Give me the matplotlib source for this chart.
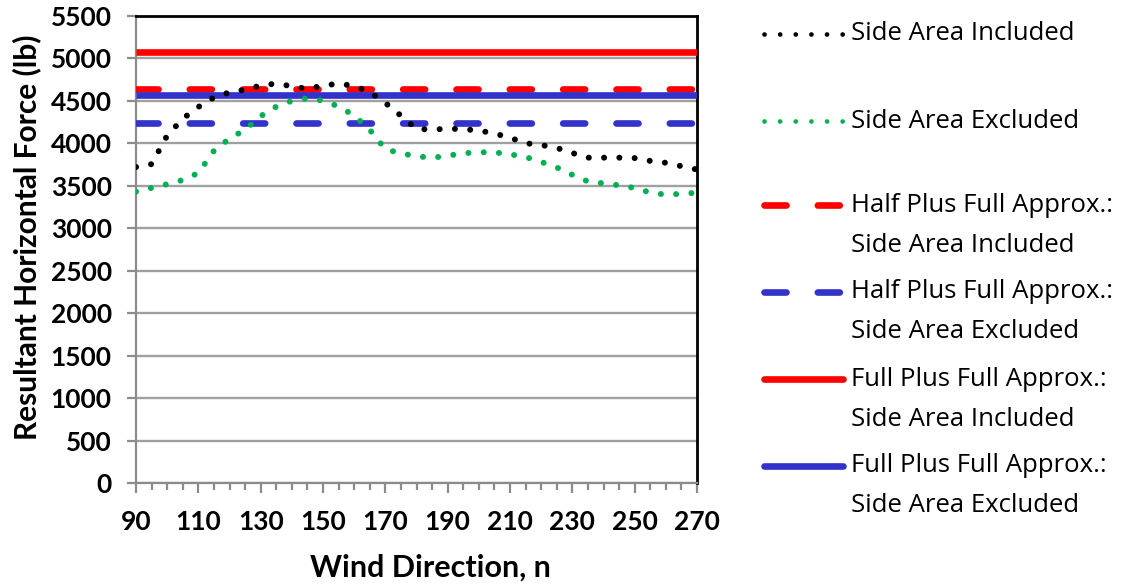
import matplotlib
matplotlib.use("Agg")
import matplotlib.pyplot as plt
from matplotlib.lines import Line2D
from matplotlib.ticker import MultipleLocator

# ---------------- data ----------------
wind_direction = [90, 95, 100, 105, 110, 115, 120, 125, 130, 135, 140, 145, 150, 155,
                  160, 165, 170, 175, 180, 185, 190, 195, 200, 205, 210, 215, 220, 225,
                  230, 235, 240, 245, 250, 255, 260, 265, 270]
side_included = [3720, 3754, 4090, 4288, 4426, 4538, 4598, 4630, 4679, 4702, 4670, 4640,
                 4678, 4701, 4674, 4603, 4474, 4324, 4168, 4160, 4171, 4166, 4149, 4115,
                 4065, 4000, 3979, 3945, 3885, 3830, 3830, 3830, 3825, 3792, 3770, 3730, 3690]
side_excluded = [3430, 3474, 3518, 3567, 3650, 3911, 4055, 4158, 4319, 4430, 4498, 4529,
                 4501, 4432, 4325, 4158, 3930, 3880, 3848, 3828, 3854, 3881, 3894, 3892,
                 3870, 3838, 3780, 3715, 3628, 3550, 3528, 3505, 3474, 3420, 3395, 3405, 3418]
half_full_included = 4634
half_full_excluded = 4238
full_full_included = 5078
full_full_excluded = 4567

y_ticks = [0, 500, 1000, 1500, 2000, 2500, 3000, 3500, 4000, 4500, 5000, 5500]
x_ticks = [90, 110, 130, 150, 170, 190, 210, 230, 250, 270]

legend_labels = ["Side Area Included",
                 "Side Area Excluded",
                 "Half Plus Full Approx.:\nSide Area Included",
                 "Half Plus Full Approx.:\nSide Area Excluded",
                 "Full Plus Full Approx.:\nSide Area Included",
                 "Full Plus Full Approx.:\nSide Area Excluded"]

# ---------------- style ----------------
BLACK = "#000000"
GREEN = "#00B050"
RED = "#FF0000"
BLUE = "#3333CC"
GRID = "#A0A0A0"
AXGRAY = "#8C8C8C"

W, H = 1122, 586
fig = plt.figure(figsize=(W / 100, H / 100), dpi=100)
L, R, T, B = 136, 697, 15.7, 483.3
ax = fig.add_axes([L / W, 1 - B / H, (R - L) / W, (B - T) / H])

ax.set_xlim(90, 270)
ax.set_ylim(0, 5500)
ax.set_yticks(y_ticks)
ax.set_xticks(x_ticks)
ax.xaxis.set_minor_locator(MultipleLocator(5))

ax.grid(axis="y", color=GRID, linewidth=1.7, zorder=0)
ax.set_axisbelow(True)

for s in ["left", "bottom"]:
    ax.spines[s].set_color(AXGRAY)
    ax.spines[s].set_linewidth(1.6)
for s in ["top", "right"]:
    ax.spines[s].set_color("black")
    ax.spines[s].set_linewidth(2.0)

ax.tick_params(axis="y", which="major", direction="out", length=6.5, width=1.6,
               color=AXGRAY, pad=11)
ax.tick_params(axis="x", which="major", direction="out", length=7.5, width=1.6,
               color=AXGRAY, pad=12)
ax.tick_params(axis="x", which="minor", direction="out", length=5, width=1.6, color=AXGRAY)
for lab in ax.get_xticklabels() + ax.get_yticklabels():
    lab.set_fontfamily("Lato")
    lab.set_fontweight("bold")
    lab.set_fontsize(19)

# horizontal approximations
hw = 4.8
dash = (0, (3.3, 4.7))
ax.axhline(full_full_included, color=RED, lw=hw, zorder=3, solid_capstyle="butt")
ax.axhline(half_full_included, color=RED, lw=hw, ls=dash, dash_capstyle="round", zorder=3)
ax.axhline(half_full_excluded, color=BLUE, lw=hw, ls=dash, dash_capstyle="round", zorder=3)
ax.axhline(full_full_excluded, color=BLUE, lw=hw, zorder=3.5, solid_capstyle="butt")

# dotted curves
dw = 4.3
dots = (0, (0.01, 2.55))
ax.plot(wind_direction, side_included, color=BLACK, lw=dw, ls=dots,
        dash_capstyle="round", zorder=4)
ax.plot(wind_direction, side_excluded, color=GREEN, lw=dw, ls=dots,
        dash_capstyle="round", zorder=4)

ax.set_xlabel("Wind Direction, n", family="Lato", weight="bold", fontsize=22)
ax.xaxis.set_label_coords((430 - L) / (R - L), (B - 568) / (B - T))
ax.xaxis.label.set_va("center")
ax.set_ylabel("Resultant Horizontal Force (lb)", family="Lato", weight="bold", fontsize=21.5)
ax.yaxis.set_label_coords((27 - L) / (R - L), (B - 237) / (B - T))
ax.yaxis.label.set_va("center")

# ---------------- legend (manual, Excel-like layout) ----------------
styles = [
    dict(color=BLACK, lw=3.4, ls=(0, (0.01, 3.3)), dash_capstyle="round"),
    dict(color=GREEN, lw=3.4, ls=(0, (0.01, 3.3)), dash_capstyle="round"),
    dict(color=RED, lw=hw, ls=(0, (3.3, 4.7)), dash_capstyle="round"),
    dict(color=BLUE, lw=hw, ls=(0, (3.3, 4.7)), dash_capstyle="round"),
    dict(color=RED, lw=hw, solid_capstyle="round"),
    dict(color=BLUE, lw=hw, solid_capstyle="round"),
]
entry_y = [34, 121, 205, 292, 379, 466]
hx0, hx1, tx = 764, 843, 851
line_gap = 40
for yy, st, lab in zip(entry_y, styles, legend_labels):
    ln = Line2D([hx0 / W, hx1 / W], [1 - yy / H, 1 - yy / H], transform=fig.transFigure, **st)
    fig.add_artist(ln)
    for k, part in enumerate(lab.split("\n")):
        fig.text(tx / W, 1 - (yy + k * line_gap) / H, part, family="Open Sans",
                 fontsize=18.5, va="center", ha="left")

fig.savefig("out.png", dpi=100)
